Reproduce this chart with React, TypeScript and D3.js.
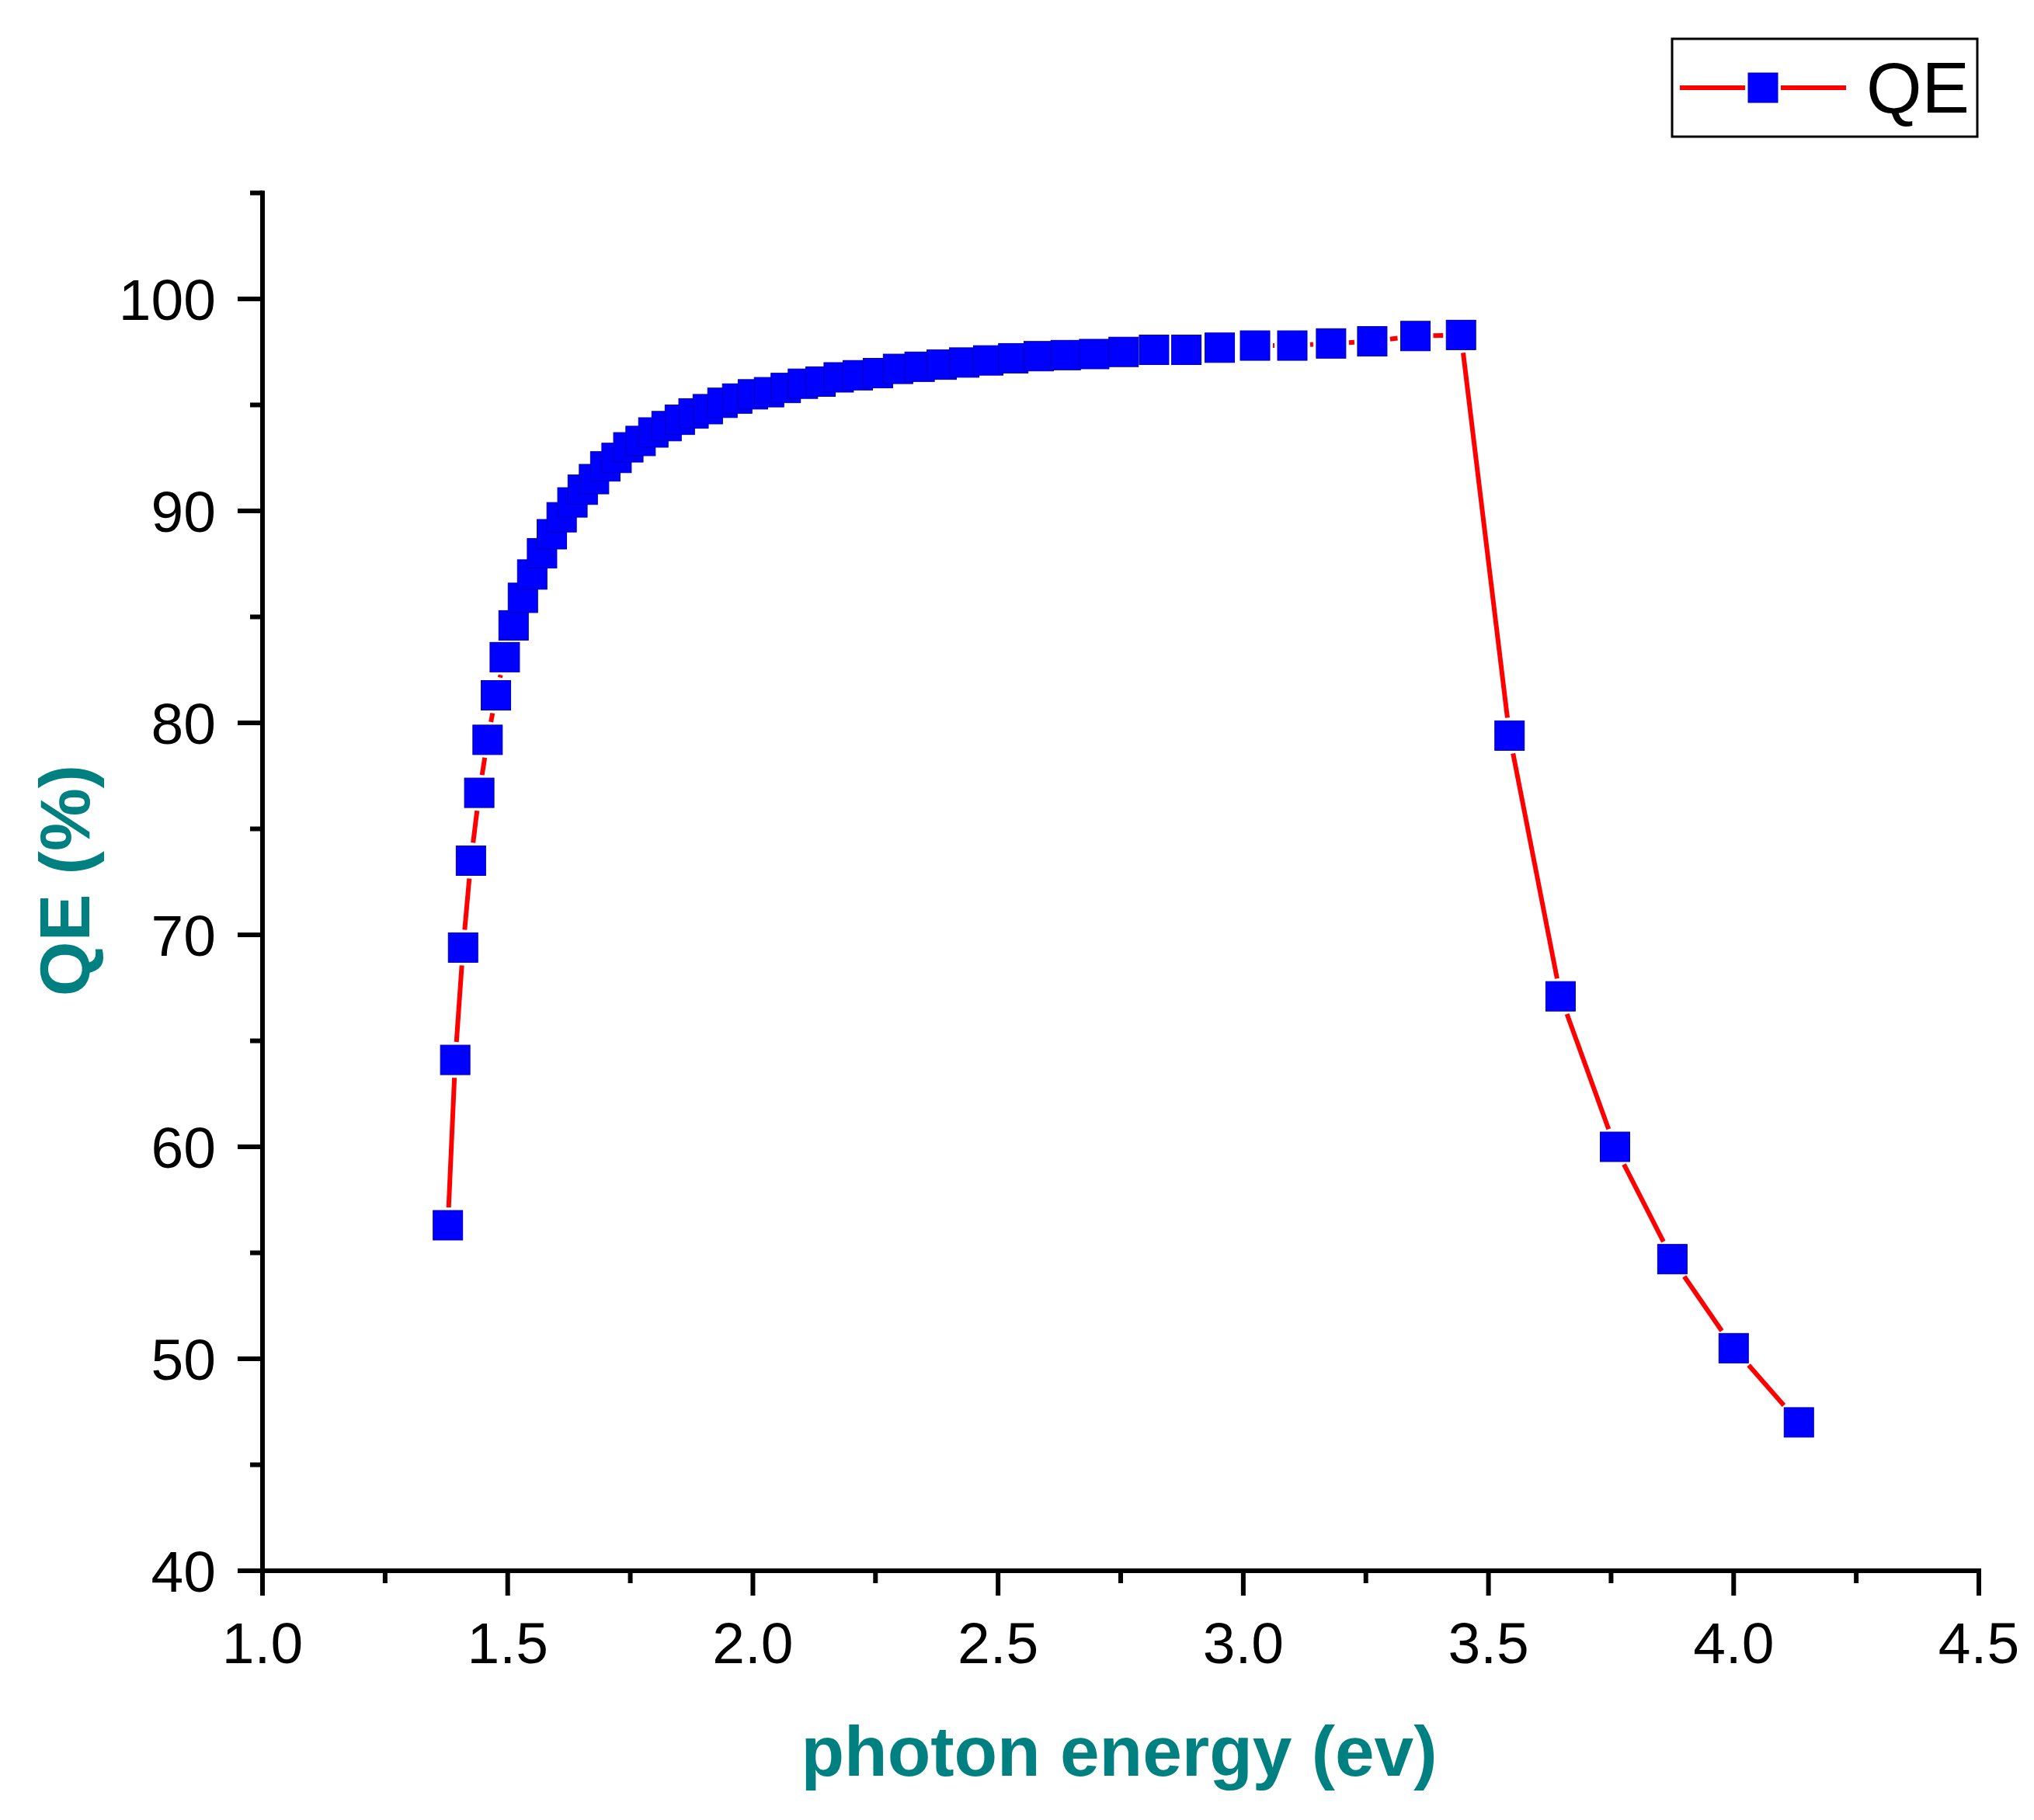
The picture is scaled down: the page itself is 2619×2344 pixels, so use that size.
import React from "react";
import * as d3 from "d3";

// photon energy (eV) of each measured point
const energy: number[] = [
  1.378, 1.393, 1.409, 1.425, 1.442, 1.459, 1.476, 1.494, 1.512, 1.531,
  1.55, 1.57, 1.59, 1.61, 1.632, 1.653, 1.676, 1.699, 1.722, 1.746,
  1.771, 1.797, 1.824, 1.851, 1.879, 1.908, 1.938, 1.968, 2.0, 2.033,
  2.067, 2.102, 2.138, 2.175, 2.214, 2.255, 2.296, 2.34, 2.385, 2.431,
  2.48, 2.531, 2.583, 2.638, 2.696, 2.756, 2.818, 2.884, 2.952, 3.024,
  3.1, 3.179, 3.263, 3.351, 3.444, 3.543, 3.647, 3.758, 3.875, 4.0, 4.133,
];

// quantum efficiency (%)
const qe: number[] = [
  56.3, 64.1, 69.4, 73.5, 76.7, 79.2, 81.3, 83.1, 84.6, 85.9,
  87.0, 88.0, 88.9, 89.7, 90.4, 91.0, 91.5, 92.1, 92.5, 93.0,
  93.3, 93.7, 94.0, 94.3, 94.6, 94.8, 95.1, 95.3, 95.5, 95.6,
  95.8, 96.0, 96.1, 96.3, 96.4, 96.5, 96.7, 96.8, 96.9, 97.0,
  97.1, 97.2, 97.3, 97.35, 97.4, 97.5, 97.6, 97.6, 97.7, 97.8,
  97.8, 97.9, 98.0, 98.25, 98.3, 79.4, 67.1, 60.0, 54.7, 50.5, 47.0,
];

const xMajorTicks: number[] = [1.0, 1.5, 2.0, 2.5, 3.0, 3.5, 4.0, 4.5];
const xMinorTicks: number[] = [1.25, 1.75, 2.25, 2.75, 3.25, 3.75, 4.25];
const yMajorTicks: number[] = [40, 50, 60, 70, 80, 90, 100];
const yMinorTicks: number[] = [45, 55, 65, 75, 85, 95, 105];

const xTitle = "photon energy (ev)";
const yTitle = "QE (%)";
const seriesName = "QE";

const W = 2619;
const H = 2344;
const FONT = "'Liberation Sans', Arial, Helvetica, sans-serif";
const TEAL = "#008080";
const LINE = "#FF0000";
const MARK = "#0000FF";
const MARK_EDGE = "#0000B0";
const MS = 38; // marker size
const GAP = 4;

function shortenedSegments(pts: [number, number][]) {
  const half = MS / 2;
  const segs: [number, number, number, number][] = [];
  for (let i = 0; i < pts.length - 1; i++) {
    const [x1, y1] = pts[i];
    const [x2, y2] = pts[i + 1];
    const dx = x2 - x1;
    const dy = y2 - y1;
    const len = Math.hypot(dx, dy);
    if (len === 0) continue;
    const ux = dx / len;
    const uy = dy / len;
    const d = half / Math.max(Math.abs(ux), Math.abs(uy)) + GAP;
    if (len <= 2 * d) continue;
    segs.push([x1 + ux * d, y1 + uy * d, x2 - ux * d, y2 - uy * d]);
  }
  return segs;
}

export default function App() {
  const x = d3.scaleLinear().domain([1.0, 4.5]).range([338, 2548]);
  const y = d3.scaleLinear().domain([40, 100]).range([2023, 385]);
  const yTop = y(105);

  const pts: [number, number][] = energy.map((e, i) => [x(e), y(qe[i])]);
  const segs = shortenedSegments(pts);

  // legend geometry
  const legX0 = 2153, legX1 = 2546, legY0 = 50, legY1 = 176;
  const legMid = 113;
  const legLineX0 = 2163, legLineX1 = 2377;
  const legMarkX = (legLineX0 + legLineX1) / 2;
  const legSegs = shortenedSegments([
    [legLineX0 - MS / 2 - GAP, legMid],
    [legMarkX, legMid],
    [legLineX1 + MS / 2 + GAP, legMid],
  ]);

  const axisW = 6;
  const majorLen = 32;
  const minorLen = 16;

  return (
    <svg
      width={W}
      height={H}
      viewBox={`0 0 ${W} ${H}`}
      style={{ position: "absolute", left: 0, top: 0, background: "#fff" }}
      fontFamily={FONT}
    >
      <rect x={0} y={0} width={W} height={H} fill="#fff" />

      {/* data line */}
      <g stroke={LINE} strokeWidth={6} strokeLinecap="butt">
        {segs.map((s, i) => (
          <line key={i} x1={s[0]} y1={s[1]} x2={s[2]} y2={s[3]} />
        ))}
      </g>

      {/* markers */}
      <g fill={MARK} stroke={MARK_EDGE} strokeWidth={1}>
        {pts.map((p, i) => (
          <rect key={i} x={p[0] - MS / 2} y={p[1] - MS / 2} width={MS} height={MS} />
        ))}
      </g>

      {/* axes */}
      <g stroke="#000" strokeWidth={axisW} strokeLinecap="square">
        <line x1={x(1.0)} y1={yTop} x2={x(1.0)} y2={y(40)} />
        <line x1={x(1.0)} y1={y(40)} x2={x(4.5)} y2={y(40)} />
      </g>
      <g stroke="#000" strokeWidth={axisW}>
        {xMajorTicks.map((t) => (
          <line key={"xM" + t} x1={x(t)} x2={x(t)} y1={y(40)} y2={y(40) + majorLen} />
        ))}
        {xMinorTicks.map((t) => (
          <line key={"xm" + t} x1={x(t)} x2={x(t)} y1={y(40)} y2={y(40) + minorLen} />
        ))}
        {yMajorTicks.map((t) => (
          <line key={"yM" + t} x1={x(1.0) - majorLen} x2={x(1.0)} y1={y(t)} y2={y(t)} />
        ))}
        {yMinorTicks.map((t) => (
          <line key={"ym" + t} x1={x(1.0) - minorLen} x2={x(1.0)} y1={y(t)} y2={y(t)} />
        ))}
      </g>

      {/* tick labels */}
      <g fill="#000" fontSize={75}>
        {xMajorTicks.map((t) => (
          <text key={"xl" + t} x={x(t)} y={2142} textAnchor="middle">
            {t.toFixed(1)}
          </text>
        ))}
        {yMajorTicks.map((t) => (
          <text key={"yl" + t} x={278} y={y(t) + 27} textAnchor="end">
            {String(t)}
          </text>
        ))}
      </g>

      {/* axis titles */}
      <text
        x={1441}
        y={2287}
        textAnchor="middle"
        fontSize={91}
        fontWeight="bold"
        fill={TEAL}
      >
        {xTitle}
      </text>
      <text
        transform={`translate(115, 1134) rotate(-90)`}
        textAnchor="middle"
        fontSize={91}
        fontWeight="bold"
        fill={TEAL}
      >
        {yTitle}
      </text>

      {/* legend */}
      <rect
        x={legX0}
        y={legY0}
        width={legX1 - legX0}
        height={legY1 - legY0}
        fill="#fff"
        stroke="#000"
        strokeWidth={3}
      />
      <g stroke={LINE} strokeWidth={6}>
        {legSegs.map((s, i) => (
          <line key={i} x1={s[0]} y1={s[1]} x2={s[2]} y2={s[3]} />
        ))}
      </g>
      <rect
        x={legMarkX - MS / 2}
        y={legMid - MS / 2}
        width={MS}
        height={MS}
        fill={MARK}
        stroke={MARK_EDGE}
        strokeWidth={1}
      />
      <text x={2403} y={145} fontSize={92} fill="#000">
        {seriesName}
      </text>
    </svg>
  );
}
